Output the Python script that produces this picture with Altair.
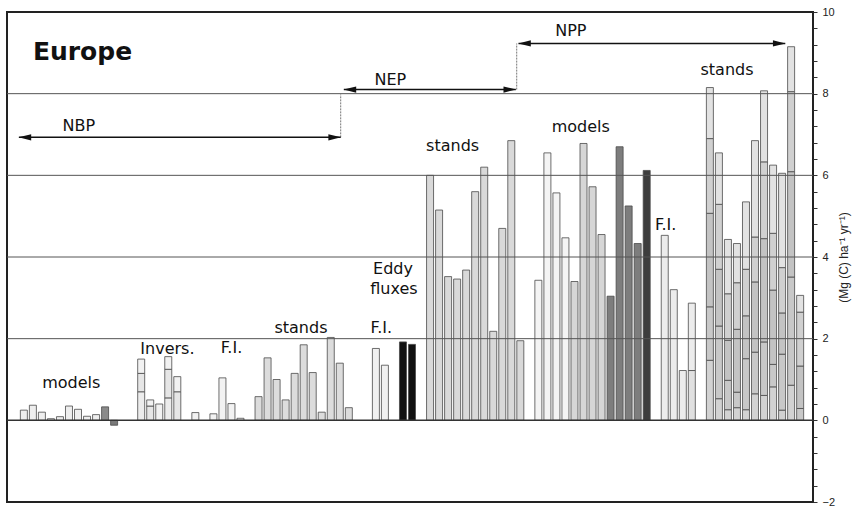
import altair as alt
import pandas as pd

# ------------------------------------------------------------------ data
# NBP
nbp_model_slots = list(range(0, 11))
nbp_model_vals = [0.25, 0.37, 0.2, 0.04, 0.09, 0.35, 0.27, 0.1, 0.14, 0.33, -0.12]
nbp_model_fills = ["#eeeeee"] * 9 + ["#8a8a8a", "#7a7a7a"]

inv_slots = [13, 14, 15, 16, 17]
inv_stacks = [[0, 0.7, 1.15, 1.5], [0, 0.35, 0.5], [0, 0.4], [0, 0.55, 1.25, 1.56], [0, 0.7, 1.07]]

nbp_fi_slots = [19, 21, 22, 23, 24]
nbp_fi_vals = [0.19, 0.16, 1.04, 0.41, 0.05]

nbp_stand_slots = list(range(26, 37))
nbp_stand_vals = [0.58, 1.53, 1.0, 0.5, 1.15, 1.85, 1.17, 0.2, 2.03, 1.4, 0.31]

nep_fi_slots = [39, 40]
nep_fi_vals = [1.76, 1.35]

eddy_slots = [42, 43]
eddy_vals = [1.92, 1.86]

# NEP
nep_stand_slots = list(range(45, 56))
nep_stand_vals = [6.0, 5.15, 3.52, 3.46, 3.68, 5.6, 6.2, 2.18, 4.7, 6.85, 1.95]

# NPP
npp_model_slots = list(range(57, 70))
npp_model_vals = [3.43, 6.55, 5.57, 4.47, 3.4, 6.78, 5.72, 4.55, 3.04, 6.7, 5.25, 4.33, 6.12]
npp_model_fills = ["#f4f4f4"] * 4 + ["#d6d6d6"] * 4 + ["#7d7d7d"] * 4 + ["#3d3d3d"]

npp_fi_slots = [71, 72, 73, 74]
npp_fi_stacks = [[0, 4.53], [0, 3.2], [0, 1.22], [0, 1.22, 2.87]]

npp_stand_slots = list(range(76, 87))
npp_stand_stacks = [
    [0, 1.47, 2.78, 5.07, 6.9, 8.15],
    [0, 0.53, 2.31, 3.7, 5.29, 6.55],
    [0, 0.26, 0.98, 1.96, 3.1, 4.43],
    [0, 0.31, 0.69, 2.23, 3.37, 4.33],
    [0, 0.26, 1.51, 2.56, 3.7, 5.35],
    [0, 0.65, 1.67, 3.39, 4.49, 6.85],
    [0, 0.61, 1.92, 4.45, 6.33, 8.07],
    [0, 0.82, 1.37, 3.19, 4.58, 6.25],
    [0, 0.25, 1.62, 2.63, 3.74, 6.05],
    [0, 0.86, 3.51, 6.09, 8.05, 9.15],
    [0, 0.29, 1.33, 2.65, 3.06],
]

grid_values = [2, 4, 6, 8]
zero_value = [0]

# annotations (slot / value coordinates)
arrow_labels = ["NBP", "NEP", "NPP"]
arrow_x1 = [-0.55, 35.45, 54.8]
arrow_x2 = [35.1, 54.5, 84.35]
arrow_y = [6.93, 8.1, 9.23]
conn_x = [35.1, 54.6]
conn_y1 = [6.93, 8.1]
conn_y2 = [7.98, 9.23]
arrow_label_x = [6.1, 40.6, 60.6]
arrow_label_y = [7.2, 8.33, 9.53]

group_labels = ["models", "Invers.", "F.I.", "stands", "F.I.", "Eddy", "fluxes",
                "stands", "models", "F.I.", "stands"]
group_label_x = [5.25, 15.9, 23.0, 30.7, 39.6, 40.9, 41.0, 47.5, 61.7, 71.1, 77.9]
group_label_y = [0.91, 1.74, 1.76, 2.25, 2.25, 3.70, 3.21, 6.71, 7.18, 4.78, 8.57]

title_text = ["Europe"]
title_x = [1.0]
title_y = [9.02]

# ------------------------------------------------------------------ build tables
rows = []


def add_simple(slots, vals, fills):
    for s, v, f in zip(slots, vals, fills):
        rows.append(dict(slot=s, lo=0.0, hi=v, fill=f))


def add_stacked(slots, stacks, palette):
    for s, b in zip(slots, stacks):
        n = len(b) - 1
        for i in range(n):
            rows.append(dict(slot=s, lo=b[i], hi=b[i + 1], fill=palette[min(n - 1 - i, len(palette) - 1)]))


add_simple(nbp_model_slots, nbp_model_vals, nbp_model_fills)
add_stacked(inv_slots, inv_stacks, ["#f2f2f2", "#e6e6e6", "#ececec"])
add_simple(nbp_fi_slots, nbp_fi_vals, ["#f2f2f2"] * len(nbp_fi_vals))
add_simple(nbp_stand_slots, nbp_stand_vals, ["#dcdcdc"] * len(nbp_stand_vals))
add_simple(nep_fi_slots, nep_fi_vals, ["#f0f0f0"] * 2)
add_simple(eddy_slots, eddy_vals, ["#111111"] * 2)
add_simple(nep_stand_slots, nep_stand_vals, ["#d9d9d9"] * len(nep_stand_vals))
add_simple(npp_model_slots, npp_model_vals, npp_model_fills)
add_stacked(npp_fi_slots, npp_fi_stacks, ["#ececec", "#e0e0e0"])
add_stacked(npp_stand_slots, npp_stand_stacks, ["#e2e2e2", "#d0d0d0", "#c3c3c3", "#c8c8c8", "#d2d2d2"])

bars_df = pd.DataFrame(rows)

xscale = alt.Scale(domain=[-1.313, 86.87], nice=False, zero=False)
yscale = alt.Scale(domain=[-2, 10], nice=False, zero=False)

tick_vals = [round(-2 + 0.4 * k, 1) for k in range(31)]

y_axis = alt.Axis(
    orient="right",
    values=tick_vals,
    format="~g",
    labelExpr="abs(datum.value % 2) < 0.01 ? datum.label : ''",
    labelOverlap=False,
    tickSize=4,
    tickColor="#333333",
    domain=False,
    grid=False,
    labelPadding=5,
    labelFont="Liberation Sans",
    labelFontSize=11,
    labelColor="#222222",
    title="(Mg (C) ha⁻¹ yr⁻¹)",
    titleAngle=270,
    titleFont="Liberation Sans",
    titleFontSize=12,
    titleFontWeight="normal",
    titleColor="#222222",
    titlePadding=16,
)
x_axis = None


def X(field):
    return alt.X(field, scale=xscale, axis=x_axis)


def Y(field):
    return alt.Y(field, scale=yscale, axis=y_axis)


bars = alt.Chart(bars_df).mark_bar(size=7, stroke="#4a4a4a", strokeWidth=0.8).encode(
    x=X("slot:Q"), y=Y("lo:Q"), y2="hi:Q", color=alt.Color("fill:N", scale=None)
)

grid = alt.Chart(pd.DataFrame({"lo": grid_values})).mark_rule(color="#555555", strokeWidth=1).encode(
    y=Y("lo:Q")
)
zero = alt.Chart(pd.DataFrame({"lo": zero_value})).mark_rule(color="#333333", strokeWidth=1.5).encode(
    y=Y("lo:Q")
)

arrows_df = pd.DataFrame({"label": arrow_labels, "slot": arrow_x1, "x2": arrow_x2, "lo": arrow_y})
arrow_lines = alt.Chart(arrows_df).mark_rule(color="#111111", strokeWidth=1.5).encode(
    x=X("slot:Q"), x2="x2:Q", y=Y("lo:Q")
)
left_heads = alt.Chart(arrows_df).mark_point(
    shape="M-1,0L1,-0.5L1,0.5Z", filled=True, color="#111111", size=160, opacity=1, xOffset=6
).encode(x=X("slot:Q"), y=Y("lo:Q"))
right_heads = alt.Chart(pd.DataFrame({"slot": arrow_x2, "lo": arrow_y})).mark_point(
    shape="M1,0L-1,-0.5L-1,0.5Z", filled=True, color="#111111", size=160, opacity=1, xOffset=-6
).encode(x=X("slot:Q"), y=Y("lo:Q"))

conn_df = pd.DataFrame({"slot": conn_x, "lo": conn_y1, "y2": conn_y2})
connectors = alt.Chart(conn_df).mark_rule(color="#777777", strokeWidth=1, strokeDash=[2, 1]).encode(
    x=X("slot:Q"), y=Y("lo:Q"), y2="y2:Q"
)

arrow_text = alt.Chart(pd.DataFrame({"t": arrow_labels, "slot": arrow_label_x, "lo": arrow_label_y})).mark_text(
    font="DejaVu Sans", fontSize=16, color="#111111", align="center", baseline="middle"
).encode(x=X("slot:Q"), y=Y("lo:Q"), text="t:N")

group_text = alt.Chart(pd.DataFrame({"t": group_labels, "slot": group_label_x, "lo": group_label_y})).mark_text(
    font="DejaVu Sans", fontSize=16, color="#111111", align="center", baseline="middle"
).encode(x=X("slot:Q"), y=Y("lo:Q"), text="t:N")

title = alt.Chart(pd.DataFrame({"t": title_text, "slot": title_x, "lo": title_y})).mark_text(
    font="DejaVu Sans", fontSize=25, fontWeight="bold", color="#111111", align="left", baseline="middle"
).encode(x=X("slot:Q"), y=Y("lo:Q"), text="t:N")

chart = alt.layer(
    bars, grid, zero, connectors, arrow_lines, left_heads, right_heads, arrow_text, group_text, title
).properties(
    width=806,
    height=490,
    padding={"left": 7, "top": 12, "right": 52, "bottom": 9},
    autosize=alt.AutoSizeParams(type="none"),
    background="white",
).configure_view(stroke="#222222", strokeWidth=2)

chart.save("out.html", embed_options={"renderer": "svg", "actions": False})
